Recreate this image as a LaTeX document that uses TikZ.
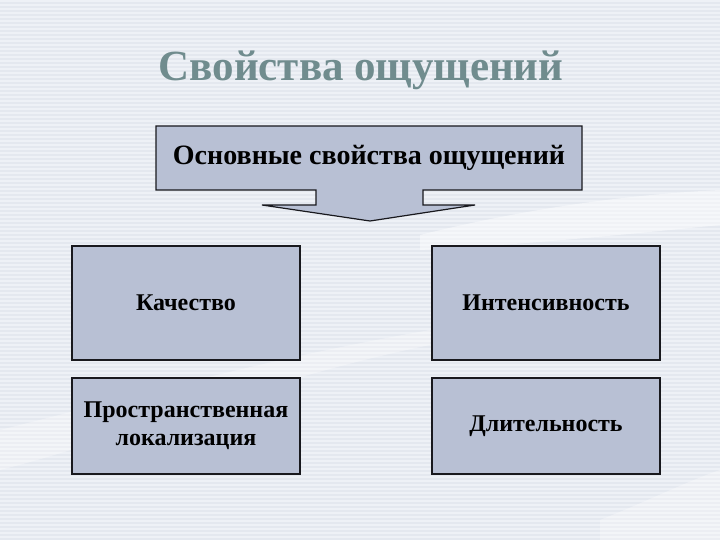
\documentclass[tikz,border=0pt]{standalone}
\usepackage{fontspec}
\setmainfont{Liberation Serif}
\usetikzlibrary{calc}
\definecolor{bgc}{RGB}{228,232,239}
\definecolor{stripe}{RGB}{238,241,246}
\definecolor{boxfill}{RGB}{184,192,212}
\definecolor{titlec}{RGB}{112,140,142}
\definecolor{edge}{RGB}{25,25,30}
\tikzset{
  card/.style={draw=edge, line width=1.2pt, fill=boxfill, minimum width=228pt, align=center,
    font=\bfseries\fontsize{24}{28}\selectfont, text=black, inner sep=0pt},
}
\begin{document}
\begin{tikzpicture}[x=1pt,y=-1pt]
\useasboundingbox (0,0) rectangle (720,540);
\fill[bgc] (0,0) rectangle (720,540);
\foreach \yy in {0,4,...,540} {\fill[stripe] (0,\yy) rectangle (720,\yy+2);}
% swooshes
\fill[white, opacity=0.45] (420,235) .. controls (520,210) and (620,195) .. (720,190) -- (720,225) .. controls (620,235) and (520,245) .. (420,250) -- cycle;
\fill[white, opacity=0.3] (0,430) .. controls (120,400) and (260,360) .. (430,330) -- (430,345) .. controls (260,380) and (120,440) .. (0,470) -- cycle;
\fill[white, opacity=0.3] (600,520) .. controls (650,500) and (690,480) .. (720,470) -- (720,540) -- (600,540) -- cycle;
% title
\node[font=\bfseries\fontsize{43}{48}\selectfont, text=titlec] (title) at (361,70) {Свойства ощущений};
% callout
\draw[draw=edge, line width=1.2pt, fill=boxfill, line join=miter] (156,126) -- (582,126) -- (582,190) -- (423,190) -- (423,205) -- (475,205) -- (370,221) -- (262,205) -- (316,205) -- (316,190) -- (156,190) -- cycle;
\node[font=\bfseries\fontsize{28}{32}\selectfont, text=black] (main) at (369,158) {Основные свойства ощущений};
% cards
\node[card, minimum height=114pt] (q) at (186,303) {Качество};
\node[card, minimum height=114pt] (i) at (546,303) {Интенсивность};
\node[card, minimum height=96pt] (p) at (186,426) {Пространственная\\локализация};
\node[card, minimum height=96pt] (d) at (546,426) {Длительность};
\end{tikzpicture}
\end{document}
